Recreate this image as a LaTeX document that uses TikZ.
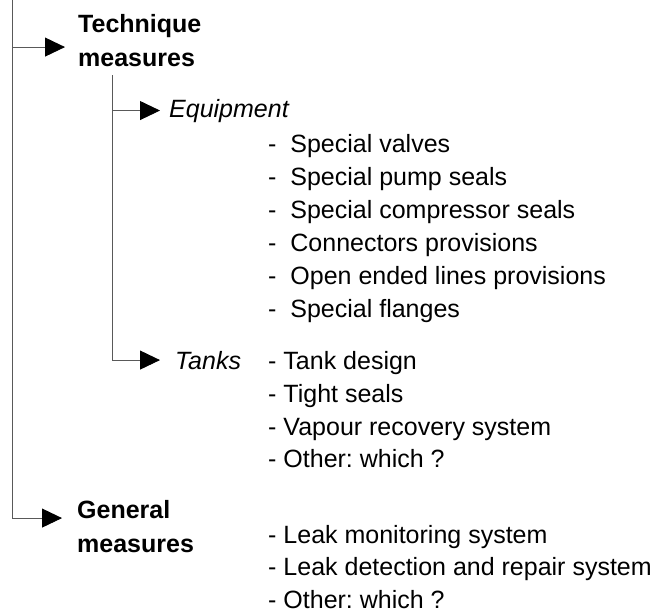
\documentclass[tikz,border=0pt]{standalone}
\usepackage{fontspec}
\setmainfont{Liberation Sans}
\usetikzlibrary{arrows.meta}
\frenchspacing

\begin{document}
\begin{tikzpicture}[x=1pt,y=-1pt]
	\tikzset{conn/.style={draw=black!65, line width=0.9pt, -{Triangle[length=20pt,width=19pt,color=black]}}}
	\tikzset{head/.style={font=\fontsize{25}{34}\selectfont\bfseries, align=left, anchor=base west, inner sep=0pt}}
	\tikzset{branch/.style={font=\fontsize{25}{33}\selectfont\itshape, anchor=base west, inner sep=0pt}}
	\tikzset{entry/.style={font=\fontsize{25}{33}\selectfont, anchor=base west, inner sep=0pt}}

	\useasboundingbox (0,0) rectangle (658,613);

	\coordinate (top) at (12,0);
	\coordinate (fork) at (112,75);

	\node[head] (tech) at (78,66) {Technique\\measures};
	\node[branch] (equip) at (169,117) {Equipment};
	\node[entry] (e1) at (268,152) {-\ \ Special valves};
	\node[entry] (e2) at (268,185) {-\ \ Special pump seals};
	\node[entry] (e3) at (268,218) {-\ \ Special compressor seals};
	\node[entry] (e4) at (268,251) {-\ \ Connectors provisions};
	\node[entry] (e5) at (268,284) {-\ \ Open ended lines provisions};
	\node[entry] (e6) at (268,317) {-\ \ Special flanges};

	\node[branch] (tanks) at (175,369) {Tanks};
	\node[entry] (t1) at (268,369) {- Tank design};
	\node[entry] (t2) at (268,402) {- Tight seals};
	\node[entry] (t3) at (268,435) {- Vapour recovery system};
	\node[entry] (t4) at (268,467) {- Other: which ?};

	\node[head] (gen) at (77,552) {General\\measures};
	\node[entry] (g1) at (268,543) {- Leak monitoring system};
	\node[entry] (g2) at (268,575) {- Leak detection and repair system};
	\node[entry] (g3) at (268,608) {- Other: which ?};

	\draw[conn, shorten >=13pt] (top) |- ([yshift=-7pt]tech.west);
	\draw[conn, shorten >=15pt] (top) |- ([yshift=8pt]gen.west);
	\draw[conn, shorten >=9pt] (fork) |- (equip.west);
	\draw[conn, shorten >=15pt] (fork) |- (tanks.west);

\end{tikzpicture}
\end{document}
